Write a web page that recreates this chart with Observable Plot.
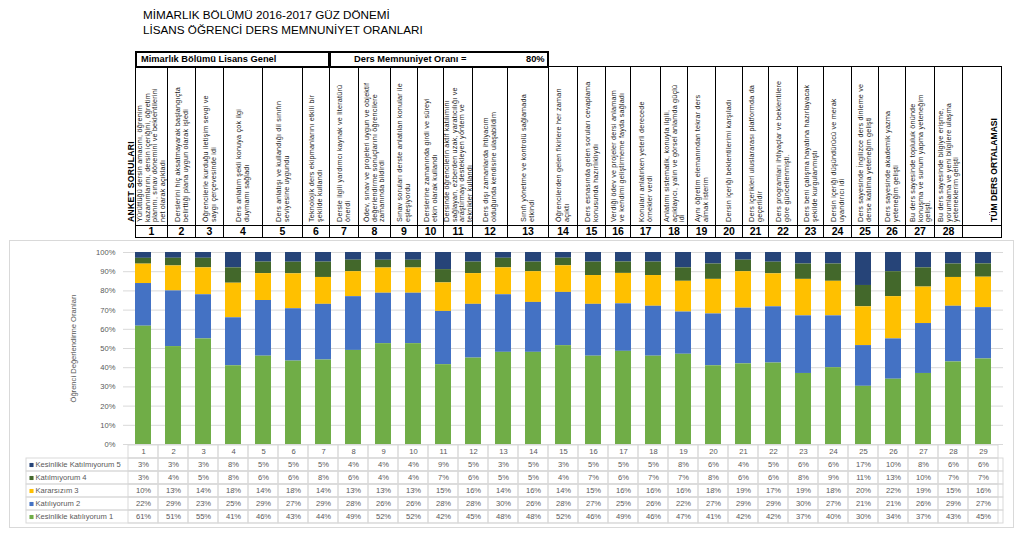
<!DOCTYPE html>
<html>
<head>
<meta charset="utf-8">
<script src="https://cdn.jsdelivr.net/npm/d3@7"></script>
<script src="https://cdn.jsdelivr.net/npm/@observablehq/plot@0.6"></script>
<style>
  html, body { margin: 0; padding: 0; background: #fff; }
  body { position: relative; width: 1023px; height: 537px; overflow: hidden; font-family: "Liberation Sans", Arial, sans-serif; }
  #title { position: absolute; left: 143px; top: 7px; font-size: 11.7px; line-height: 15px; color: #000; white-space: nowrap; }
  #hdr { position: absolute; left: 0; top: 0; width: 1023px; height: 240px; }
  .r1 { position: absolute; box-sizing: border-box; border: 2px solid #000; font-weight: bold; font-size: 9.3px; line-height: 13px; color: #000; white-space: nowrap; }
  .q { position: absolute; box-sizing: border-box; border: 1px solid #000; overflow: hidden; display: flex; justify-content: center; align-items: flex-end; padding-bottom: 3px; }
  .vt { flex: none; writing-mode: vertical-rl; transform: rotate(180deg); height: 142px; font-size: 7.2px; line-height: 7.6px; color: #1a1a1a; letter-spacing: 0.2px; }
  .q.last { justify-content: flex-end; padding-right: 2px; }
  .q.last .vt { font-weight: bold; font-size: 8.6px; line-height: 10px; height: auto; color: #000; letter-spacing: 0; }
  .n { position: absolute; box-sizing: border-box; border: 1px solid #000; font-weight: bold; font-size: 10.5px; line-height: 10px; text-align: center; color: #000; }
  #anket { position: absolute; left: 125px; top: 100px; width: 12px; height: 122px; display: flex; justify-content: center; align-items: flex-end; }
  #anket .vt { font-weight: bold; font-size: 8.6px; line-height: 10px; height: auto; color: #000; letter-spacing: 0.3px; }
  #chartbox { position: absolute; left: 9px; top: 240px; width: 1005px; height: 288px; box-sizing: border-box; border: 1px solid #d9d9d9; background: #fff; }
  #plot1, #plot2 { position: absolute; left: 0; }
  #plot1 { top: 0; }
  #plot2 { top: 202px; }
  svg { overflow: visible; }
</style>
</head>
<body>
<div id="title">MİMARLIK BÖLÜMÜ 2016-2017 GÜZ DÖNEMİ<br>LİSANS ÖĞRENCİ DERS MEMNUNİYET ORANLARI</div>
<div id="hdr"></div>
<div id="chartbox"><div id="plot1"></div><div id="plot2"></div></div>
<script>
// ---------------- DATA ----------------
const categories = ["1","2","3","4","5","6","7","8","9","10","11","12","13","14","15","16","17","18","19","20","21","22","23","24","25","26","27","28","29"];

const seriesNames = ["Kesinlikle Katılmıyorum 5", "Katılmıyorum 4", "Kararsızım 3", "Katılıyorum 2", "Kesinlikle katılıyorum 1"];

const kesinlikleKatilmiyorum5 = [3,3,3,8,5,5,5,4,4,4,9,5,3,5,3,5,5,5,8,6,4,5,6,6,17,10,8,6,6];
const katilmiyorum4          = [3,4,5,8,6,6,8,6,4,4,7,6,5,5,4,7,6,7,7,8,6,6,8,9,11,13,10,7,7];
const kararsizim3            = [10,13,14,18,14,18,14,13,13,13,15,16,14,16,14,15,16,16,16,18,19,17,19,18,20,22,19,15,16];
const katiliyorum2           = [22,29,23,25,29,27,29,28,26,26,28,28,30,26,28,27,25,26,22,27,29,29,30,27,21,21,26,29,27];
const kesinlikleKatiliyorum1 = [61,51,55,41,46,43,44,49,52,52,42,45,48,48,52,46,49,46,47,41,42,42,37,40,30,34,37,43,45];

const yTickPercents = [0,10,20,30,40,50,60,70,80,90,100];

const titleGroup = "Mimarlık Bölümü Lisans Genel";
const satisfactionLabel = "Ders Memnuniyet Oranı =";
const satisfactionRate = 80;
const yAxisTitle = "Öğrenci Değerlendirme Oranları";
const surveyLabel = "ANKET SORULARI";

const questionTexts = [
  "Yürüttüğü dersin amacını, öğrenim kazanımlarını, dersin içeriğini, öğretim planını, sınav dönemini ve beklentilerini net olarak açıkladı",
  "Derslerini hiç aksatmayarak başlangıçta belirttiği plana uygun olarak işledi",
  "Öğrencilerle kurduğu iletişim sevgi ve saygı çerçevesinde idi",
  "Ders anlatım şekli konuya çok ilgi duymamı sağladı",
  "Ders anlatışı ve kullandığı dil sınıfın seviyesine uygundu",
  "Teknolojik ders ekipmanlarını etkili bir şekilde kullandı",
  "Dersle ilgili yardımcı kaynak ve literatürü önerdi",
  "Ödev, sınav ve projeleri uygun ve objektif değerlendirme sonuçlarını öğrencilere zamanında bildirdi",
  "Sınav soruları derste anlatılan konular ile eşleşiyordu",
  "Derslerine zamanında girdi ve süreyi etkin olarak kullandı",
  "Dersinde öğrencilerin aktif katılımını sağlayan, ezberden uzak, yaratıcılığı ve araştırmayı destekleyen yöntem ve teknikler kullandı",
  "Ders dışı zamanlarda ihtiyacım olduğunda kendisine ulaşabildim",
  "Sınıfı yönetme ve kontrolü sağlamada etkindi",
  "Öğrencilerden gelen fikirlere her zaman açıktı",
  "Ders esnasında gelen soruları cevaplama konusunda hazırlıklıydı",
  "Verdiği ödev ve projeler dersi anlamam ve kendimi geliştirmeme fayda sağladı",
  "Konuları anlatırken yeterli derecede örnekler verdi",
  "Anlatımı sistematik, konuyla ilgili, açıklayıcı, yalın ve görsel anlamda güçlü idi",
  "Aynı öğretim elemanından tekrar ders almak isterim",
  "Dersin içeriği beklentilerimi karşıladı",
  "Ders içerikleri uluslararası platformda da geçerlidir",
  "Ders programları ihtiyaçlar ve beklentilere göre güncellenmişti.",
  "Ders beni çalışma hayatına hazırlayacak şekilde kurgulanmıştı",
  "Dersin içeriği düşündürücü ve merak uyandırıcı idi",
  "Ders sayesinde İngilizce ders dinleme ve derse katılma yeteneğim gelişti",
  "Ders sayesinde akademik yazma yeteneğim gelişti",
  "Bu ders sayesinde topluluk önünde konuşma ve sunum yapma yeteneğim gelişti.",
  "Bu ders sayesinde bilgiye erişme, yorumlama ve yeni bilgilere ulaşma yeteneklerim gelişti"
];
const averageLabel = "TÜM DERS ORTALAMASI";
const questionNumbers = ["1","2","3","4","5","6","7","8","9","10","11","12","13","14","15","16","17","18","19","20","21","22","23","24","25","26","27","28",""];

// ---------------- STYLE / LAYOUT ----------------
const seriesColors = ["#264478", "#43682B", "#FFC000", "#4472C4", "#70AD47"];
const FONT = '"Liberation Sans", Arial, sans-serif';
// header table column edges (layout only)
const headerEdges = [135,167,195,223,262,302,329,358,390,417,443,472,507,548,577,605,630,660,687,715,742,768,797,823,851,878,905,934,962,1001];

// ---------------- HEADER (HTML) ----------------
const hdr = document.getElementById("hdr");
function box(cls, left, top, w, h) {
  const d = document.createElement("div");
  d.className = cls;
  d.style.left = left + "px"; d.style.top = top + "px";
  d.style.width = w + "px"; d.style.height = h + "px";
  hdr.appendChild(d);
  return d;
}
const r1a = box("r1", headerEdges[0], 51, headerEdges[6] - headerEdges[0] + 1, 17);
r1a.style.paddingLeft = "4px";
r1a.textContent = titleGroup;
const r1b = box("r1", headerEdges[6], 51, headerEdges[13] - headerEdges[6] + 1, 17);
r1b.innerHTML = `<span style="position:absolute;left:23px">${satisfactionLabel}</span><span style="position:absolute;left:195px">${satisfactionRate}%</span>`;

const qLabels = [...questionTexts, averageLabel];
qLabels.forEach((q, i) => {
  const x0 = headerEdges[i], x1 = headerEdges[i + 1];
  const c = box("q" + (i === qLabels.length - 1 ? " last" : ""), x0, 66, x1 - x0 + 1, 160);
  const t = document.createElement("div");
  t.className = "vt";
  t.textContent = q;
  c.appendChild(t);
  const n = box("n", x0, 225, x1 - x0 + 1, 13);
  n.textContent = questionNumbers[i];
});
const ank = document.createElement("div");
ank.id = "anket";
ank.innerHTML = `<div class="vt">${surveyLabel}</div>`;
hdr.appendChild(ank);

// ---------------- TIDY DATA ----------------
const seriesValues = [kesinlikleKatilmiyorum5, katilmiyorum4, kararsizim3, katiliyorum2, kesinlikleKatiliyorum1];
const tidy = [];
seriesNames.forEach((s, si) => {
  categories.forEach((c, ci) => tidy.push({category: c, series: s, value: seriesValues[si][ci]}));
});
const stackOrder = [...seriesNames].reverse(); // bottom -> top
const yTicks = yTickPercents.map(d => d / 100);
const colorScale = {domain: seriesNames, range: seriesColors};
const baseStyle = {fontFamily: FONT, fontSize: "7.6px", color: "#595959", background: "transparent", overflow: "visible"};

// ---------------- CHART ----------------
const plot1 = Plot.plot({
  width: 1003, height: 203,
  marginLeft: 113, marginRight: 10, marginTop: 11, marginBottom: 0,
  style: baseStyle,
  x: {type: "band", domain: categories, paddingInner: 0.47, paddingOuter: 0.235, axis: null},
  y: {domain: [0, 1], axis: null},
  color: colorScale,
  marks: [
    Plot.gridY(yTicks, {stroke: "#d9d9d9", strokeOpacity: 1}),
    Plot.barY(tidy, Plot.stackY({x: "category", y: "value", fill: "series", order: stackOrder, offset: "normalize"})),
    Plot.axisY(yTicks, {
      tickSize: 0, tickPadding: 8,
      tickFormat: d => `${Math.round(d * 100)}%`,
      label: yAxisTitle, labelAnchor: "center", labelArrow: "none", labelOffset: 53,
      fontSize: 7.6
    })
  ]
});
document.getElementById("plot1").appendChild(plot1);

// ---------------- DATA TABLE ----------------
const rowOrder = ["#", ...seriesNames];
const tableCells = [
  ...categories.map(c => ({category: c, row: "#"})),
  ...tidy.map(d => ({category: d.category, row: d.series}))
];
const plot2 = Plot.plot({
  width: 1003, height: 81,
  marginLeft: 16, marginRight: 10, marginTop: 1, marginBottom: 0,
  style: baseStyle,
  x: {type: "band", domain: categories, range: [113, 993], padding: 0, axis: null},
  y: {type: "band", domain: rowOrder, padding: 0, axis: null},
  color: colorScale,
  marks: [
    Plot.cell(seriesNames, {y: d => d, stroke: "#d9d9d9", fill: "none"}),
    Plot.cell(tableCells, {x: "category", y: "row", stroke: "#d9d9d9", fill: "none"}),
    Plot.text(categories, {x: d => d, y: () => "#", text: d => d}),
    Plot.text(tidy, {x: "category", y: "series", text: d => `${d.value}%`}),
    Plot.dot(seriesNames, {y: d => d, frameAnchor: "left", dx: 5, symbol: "square", r: 2.3, fill: d => d}),
    Plot.text(seriesNames, {y: d => d, text: d => d, frameAnchor: "left", textAnchor: "start", dx: 9})
  ]
});
document.getElementById("plot2").appendChild(plot2);
</script>
</body>
</html>
